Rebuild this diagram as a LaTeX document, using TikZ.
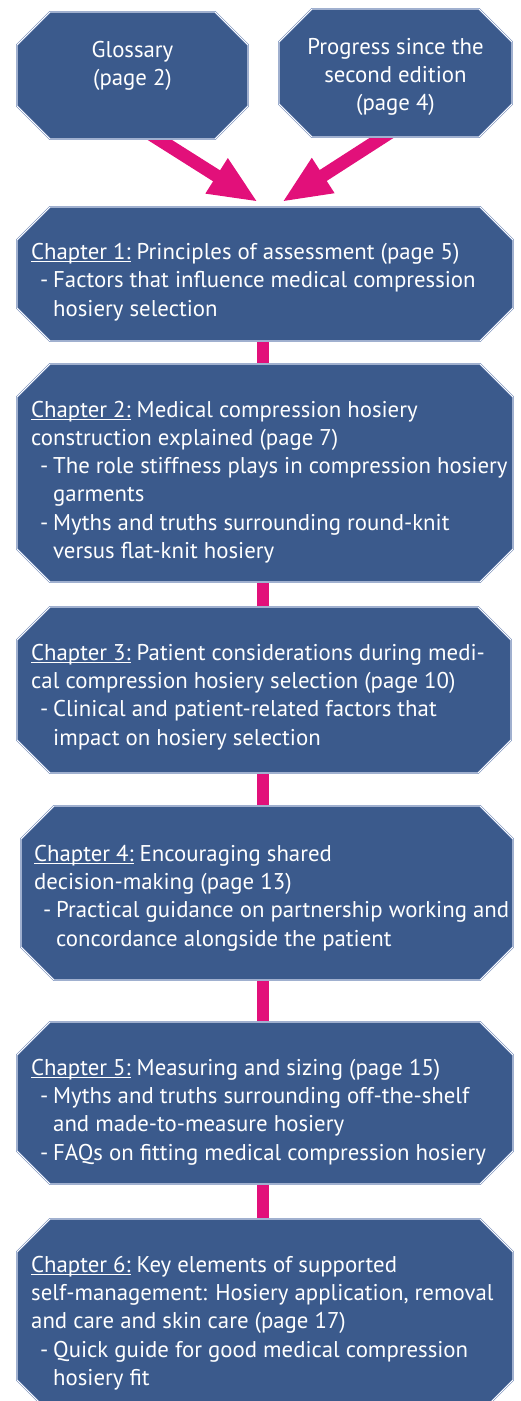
\documentclass[tikz,border=0pt]{standalone}
\usepackage{fontspec}
\setmainfont{PT Sans}
\usetikzlibrary{arrows, arrows.meta}
\usetikzlibrary{positioning}
\usetikzlibrary{backgrounds}

\definecolor{boxfill}{HTML}{3B5A8C}
\definecolor{boxedge}{HTML}{6D86B5}
\definecolor{linkpink}{HTML}{E2107A}

\newcommand{\chul}[1]{\setbox0\hbox{#1}\rlap{\rule[-2.5pt]{\wd0}{0.9pt}}\box0\relax}
\newcommand{\bl}{\makebox[22pt][l]{\hspace{9pt}-}}
\newcommand{\ct}{\hspace*{22pt}}
\newcommand{\octagon}[1]{\path[octline] ([xshift=33pt]#1.north west) -- ([xshift=-33pt]#1.north east) -- ([yshift=-33pt]#1.north east) -- ([yshift=33pt]#1.south east) -- ([xshift=-33pt]#1.south east) -- ([xshift=33pt]#1.south west) -- ([yshift=33pt]#1.south west) -- ([yshift=-33pt]#1.north west) -- cycle;}

\tikzset{
  boxtext/.style={text=white, align=center, inner sep=0pt, font=\fontsize{22.8pt}{28.3pt}\selectfont},
  chaptext/.style={boxtext, text width=480pt, align=flush left, execute at begin node={\spaceskip=0pt\xspaceskip=0pt}},
  octspot/.style={rectangle, inner sep=0pt, outer sep=0pt},
  octline/.style={fill=boxfill, draw=boxedge, line width=0.5pt, double=white, double distance=0.8pt},
  feed/.style={linkpink, line width=13pt, -{Triangle[length=49pt, width=38pt]}},
  link/.style={linkpink, line width=12pt},
}

\begin{document}
\begin{tikzpicture}[x=1pt, y=-1pt]
  \useasboundingbox (0,0) rectangle (520,1401);

  \node[octspot, minimum width=231pt, minimum height=127pt] (gloss) at (132.5,75.5) {};
  \node[boxtext] (glosstext) at (132.5,66) {Glossary\\(page 2)};
  \node[octspot, minimum width=233pt, minimum height=128pt] (prog) at (395.5,73) {};
  \node[boxtext] (progtext) at (395.5,77) {Progress since the\\second edition\\(page 4)};

  \node[octspot, minimum width=496pt, minimum height=134pt] (ch1) at (265,274) {};
  \node[chaptext, right=14pt of ch1.west, yshift=-8pt] (ch1text) {\chul{Chapter 1:} Principles of assessment (page 5)\\
    \bl Factors that influence medical compression\\
    \ct hosiery selection};
  \node[octspot, minimum width=496pt, minimum height=218pt] (ch2) at (265,473) {};
  \node[chaptext, right=14pt of ch2.west, yshift=-9pt] (ch2text) {\chul{Chapter 2:} Medical compression hosiery\\
    construction explained (page 7)\\
    \bl The role stiffness plays in compression hosiery\\
    \ct garments\\
    \bl Myths and truths surrounding round-knit\\
    \ct versus flat-knit hosiery};
  \node[octspot, minimum width=494pt, minimum height=166pt] (ch3) at (264,690) {};
  \node[chaptext, right=14pt of ch3.west, yshift=-7pt] (ch3text) {\chul{Chapter 3:} Patient considerations during medi-\\
    cal compression hosiery selection (page 10)\\
    \bl Clinical and patient-related factors that\\
    \ct impact on hosiery selection};
  \node[octspot, minimum width=492pt, minimum height=174pt] (ch4) at (267,893) {};
  \node[chaptext, right=13pt of ch4.west, yshift=-5pt] (ch4text) {\chul{Chapter 4:} Encouraging shared\\
    decision-making (page 13)\\
    \bl Practical guidance on partnership working and\\
    \ct concordance alongside the patient};
  \node[octspot, minimum width=496pt, minimum height=162pt] (ch5) at (265,1103) {};
  \node[chaptext, right=14pt of ch5.west, yshift=-9pt] (ch5text) {\chul{Chapter 5:} Measuring and sizing (page 15)\\
    \bl Myths and truths surrounding off-the-shelf\\
    \ct and made-to-measure hosiery\\
    \bl FAQs on fitting medical compression hosiery};
  \node[octspot, minimum width=496pt, minimum height=194pt] (ch6) at (265,1316) {};
  \node[chaptext, right=14pt of ch6.west, yshift=-7pt] (ch6text) {\chul{Chapter 6:} Key elements of supported\\
    self-management: Hosiery application, removal\\
    and care and skin care (page 17)\\
    \bl Quick guide for good medical compression\\
    \ct hosiery fit};

  \begin{scope}[on background layer]
    \draw[feed] ([xshift=10pt, yshift=10pt]gloss.south) -- ([xshift=-7pt, yshift=5pt]ch1.north);
    \draw[feed] ([xshift=3pt, yshift=10pt]prog.south) -- ([xshift=17pt, yshift=5pt]ch1.north);
    \draw[link] ([xshift=-2pt]ch1.south) -- ([xshift=-2pt]ch1.south |- ch2.north);
    \draw[link] ([xshift=-2pt]ch2.south) -- ([xshift=-2pt]ch2.south |- ch3.north);
    \draw[link] ([xshift=-1pt]ch3.south) -- ([xshift=-1pt]ch3.south |- ch4.north);
    \draw[link] ([xshift=-4pt]ch4.south) -- ([xshift=-4pt]ch4.south |- ch5.north);
    \draw[link] ([xshift=-2pt]ch5.south) -- ([xshift=-2pt]ch5.south |- ch6.north);
    \octagon{gloss}
    \octagon{prog}
    \octagon{ch1}
    \octagon{ch2}
    \octagon{ch3}
    \octagon{ch4}
    \octagon{ch5}
    \octagon{ch6}
  \end{scope}
\end{tikzpicture}
\end{document}
